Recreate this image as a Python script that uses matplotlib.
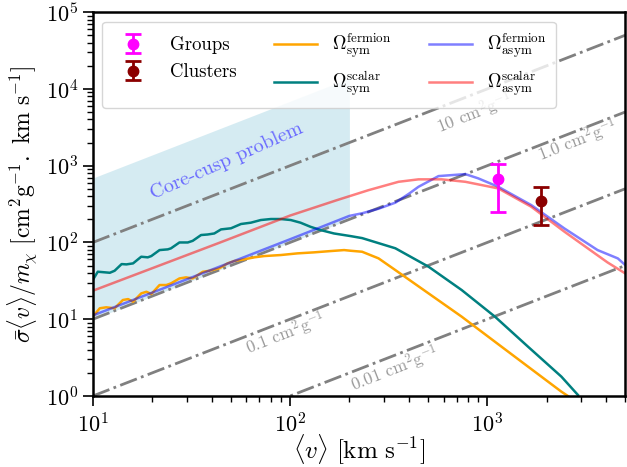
import matplotlib
matplotlib.use('Agg')
import matplotlib.pyplot as plt
import numpy as np

plt.rcParams['font.family'] = 'serif'
plt.rcParams['font.serif'] = ['cmr10']
plt.rcParams['mathtext.fontset'] = 'cm'
plt.rcParams['axes.unicode_minus'] = False
plt.rcParams['axes.formatter.use_mathtext'] = True

# data (v in km/s, sigma v / m in cm^2 g^-1 km s^-1)
v_fs = [10.0, 10.85, 11.7, 12.9, 14.2, 15.1, 16.0, 17.6, 18.7, 19.8, 21.8, 23.6, 24.9, 27.5, 29.7,
        32.1, 36.1, 39.0, 43.8, 48.2, 52.1, 58.6, 65.8, 73.9, 89.8, 109, 132, 161, 188, 203, 232,
        281, 342, 504, 742, 1094, 1611, 2375, 2564]
y_fs = [10.8, 13.9, 14.3, 13.9, 17.8, 18.3, 16.9, 21.7, 22.8, 21.3, 27.9, 27.9, 29.3, 34.0, 35.1,
        34.0, 41.5, 42.8, 46.0, 53.4, 57.3, 60.3, 64.0, 66.5, 68.6, 72.1, 74.3, 77.3, 79.6, 78.0, 75.7,
        62.1, 43.7, 21.7, 10.8, 5.09, 2.41, 1.14, 1.0]

v_ss = [10, 10.6, 12.2, 12.9, 14.0, 14.8, 16.0, 17.6, 19.0, 19.8, 21.8, 24.0, 24.9, 27.5, 30.3,
        32.1, 35.4, 38.2, 41.3, 44.7, 50.2, 56.4, 63.3, 71.1, 80.0, 89.8, 100.9, 113, 127, 143,
        167, 203, 232, 342, 504, 742, 1094, 1611, 2375, 2884]
y_ss = [32.4, 41.6, 40.3, 42.8, 52.3, 51.8, 53.4, 65.2, 64.0, 66.5, 79.6, 81.3, 83.8, 100, 100,
        105, 125, 127, 131, 148, 153, 174, 181, 196, 202, 202, 196, 181, 160, 145,
        131, 121, 114, 84, 48.3, 24.0, 10.8, 4.38, 1.79, 1.03]

v_fa = [10, 20, 50, 100, 200, 232, 281, 342, 400, 448, 566, 774, 900, 1137, 1671, 2463, 3625, 4592, 5000]
y_fa = [11.2, 22.2, 55, 110, 222, 240, 275, 330, 430, 531, 732, 777, 684, 531, 307, 152, 79.6, 62, 51]

v_sa = [10, 43.8, 100, 173, 250, 355, 448, 587, 774, 1137, 1671, 2463, 4070, 5000]
y_sa = [23.5, 99, 224, 356, 480, 617, 664, 664, 617, 506, 292, 138, 55, 39.6]

groups = dict(v=1137, y=670, lo=251, hi=1050)
clusters = dict(v=1880, y=346, lo=170, hi=522)

cross_sections = [10, 1.0, 0.1, 0.01]
cs_labels = [r'10 cm$^2$g$^{-1}$', r'1.0 cm$^2$g$^{-1}$', r'0.1 cm$^2$g$^{-1}$', r'0.01 cm$^2$g$^{-1}$']
cs_label_pos = [(577, 2600), (1875, 1130), (62, 3.4), (210, 1.13)]

core_cusp_v = [10, 200]
core_cusp_lo = [10, 200]
core_cusp_hi = [690, 13800]

fig = plt.figure(figsize=(6.27, 4.67), dpi=100)
ax = fig.add_axes([0.148, 0.152, 0.849, 0.822])
ax.set_xscale('log')
ax.set_yscale('log')

ax.fill_between(core_cusp_v, core_cusp_lo, core_cusp_hi, color='lightblue', alpha=0.5, lw=0, zorder=0)
ax.text(48, 1150, 'Core-cusp problem', color='#6a6aff', fontsize=14.5, rotation=24,
        ha='center', va='center')

vv = np.array([10, 5000])
for c, lab, pos in zip(cross_sections, cs_labels, cs_label_pos):
    ax.plot(vv, c*vv, color='gray', ls='-.', lw=2, zorder=1)
    ax.text(pos[0], pos[1], lab, color='#999999', fontsize=12.5, rotation=21.5, rotation_mode='anchor',
            ha='left', va='baseline', zorder=1)

l1, = ax.plot(v_fs, y_fs, color='orange', lw=1.8, label=r'$\Omega_{\rm sym}^{\rm fermion}$')
l2, = ax.plot(v_ss, y_ss, color='teal', lw=1.8, label=r'$\Omega_{\rm sym}^{\rm scalar}$')
l3, = ax.plot(v_fa, y_fa, color='blue', alpha=0.5, lw=1.8, label=r'$\Omega_{\rm asym}^{\rm fermion}$')
l4, = ax.plot(v_sa, y_sa, color='red', alpha=0.5, lw=1.8, label=r'$\Omega_{\rm asym}^{\rm scalar}$')

e1 = ax.errorbar([groups['v']], [groups['y']],
                 yerr=[[groups['y']-groups['lo']], [groups['hi']-groups['y']]],
                 fmt='o', color='magenta', ms=7.5, elinewidth=2, capsize=6, capthick=2, label='Groups')
e2 = ax.errorbar([clusters['v']], [clusters['y']],
                 yerr=[[clusters['y']-clusters['lo']], [clusters['hi']-clusters['y']]],
                 fmt='o', color='darkred', ms=7.5, elinewidth=2, capsize=6, capthick=2, label='Clusters')

ax.set_xlim(10, 5000)
ax.set_ylim(1, 1e5)
ax.set_xlabel(r'$\langle v\rangle\ [\mathrm{km\ s^{-1}}]$', fontsize=18, labelpad=-3)
ax.set_ylabel(r'$\bar{\sigma}\langle v\rangle/m_\chi\ [\mathrm{cm^2g^{-1}.\ km\ s^{-1}}]$', fontsize=17)
ax.tick_params(which='major', labelsize=16, length=7, width=1.2)
ax.tick_params(axis='x', which='major', pad=5)
ax.tick_params(which='minor', length=4, width=1)
for s in ax.spines.values():
    s.set_linewidth(1.8)

leg = ax.legend(handles=[e1, e2, l1, l2, l3, l4], ncol=3, loc='upper left', fontsize=13.5,
                columnspacing=2.0, handlelength=2.3, handletextpad=0.8, borderpad=0.5)
leg.set_zorder(5)

fig.savefig('out.png', dpi=100)
